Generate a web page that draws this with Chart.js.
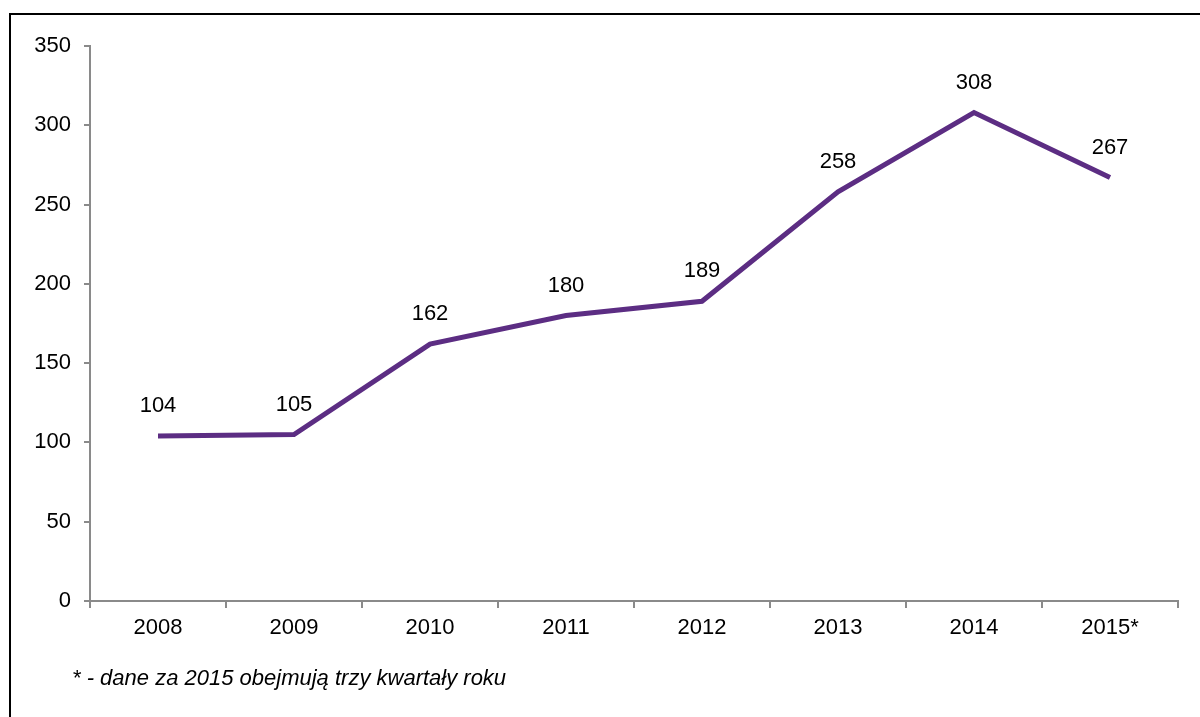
<!DOCTYPE html>
<html>
<head>
<meta charset="utf-8">
<script src="https://cdn.jsdelivr.net/npm/chart.js@4"></script>
<style>
  html, body { margin: 0; padding: 0; background: #fff; overflow: hidden; }
  #wrap { position: relative; width: 1200px; height: 717px; }
  #frame {
    position: absolute; left: 9px; top: 13px; width: 1300px; height: 800px;
    border-left: 2px solid #000; border-top: 2px solid #000;
  }
  #chart { position: absolute; left: 0; top: 0; }
  #note {
    position: absolute; left: 72px; top: 665px;
    font: italic 22px "Liberation Sans", Arial, sans-serif; color: #000;
  }
</style>
</head>
<body>
<div id="wrap">
  <div id="frame"></div>
  <canvas id="chart" width="1200" height="717"></canvas>
  <div id="note">* - dane za 2015 obejmują trzy kwartały roku</div>
</div>
<script>
const years = ["2008", "2009", "2010", "2011", "2012", "2013", "2014", "2015*"];
const counts = [104, 105, 162, 180, 189, 258, 308, 267];

const FONT = { family: "'Liberation Sans', Arial, sans-serif", size: 22 };
const AXIS = "#8a8a8a";

// value labels above each point
const pointLabels = {
    id: "pointLabels",
    afterDatasetsDraw(chart) {
        const ctx = chart.ctx;
        const meta = chart.getDatasetMeta(0);
        ctx.save();
        ctx.font = FONT.size + "px " + FONT.family;
        ctx.fillStyle = "#000";
        ctx.textAlign = "center";
        ctx.textBaseline = "middle";
        meta.data.forEach((pt, i) => {
            ctx.fillText(String(counts[i]), pt.x, pt.y - 30);
        });
        ctx.restore();
    }
};

new Chart(document.getElementById("chart").getContext("2d"), {
    type: "line",
    data: {
        labels: years,
        datasets: [{
            data: counts,
            borderColor: "#5c2d83",
            borderWidth: 5,
            pointRadius: 0,
            tension: 0,
            fill: false
        }]
    },
    options: {
        responsive: false,
        animation: false,
        layout: { padding: { left: 0, top: 46, right: 22, bottom: 66 } },
        plugins: { legend: { display: false }, tooltip: { enabled: false } },
        scales: {
            x: {
                offset: true,
                grid: { offset: true, drawOnChartArea: false, tickLength: 7, color: AXIS, lineWidth: 2 },
                border: { color: AXIS, width: 2 },
                ticks: { color: "#000", font: FONT, padding: 7, maxRotation: 0 },
                afterFit(scale) { scale.height = 50; }
            },
            y: {
                min: 0,
                max: 350,
                ticks: { stepSize: 50, color: "#000", font: FONT, padding: 13 },
                grid: { drawOnChartArea: false, tickLength: 6, color: AXIS, lineWidth: 2 },
                border: { color: AXIS, width: 2 },
                afterFit(scale) { scale.width = 90; }
            }
        }
    },
    plugins: [pointLabels]
});
</script>
</body>
</html>
